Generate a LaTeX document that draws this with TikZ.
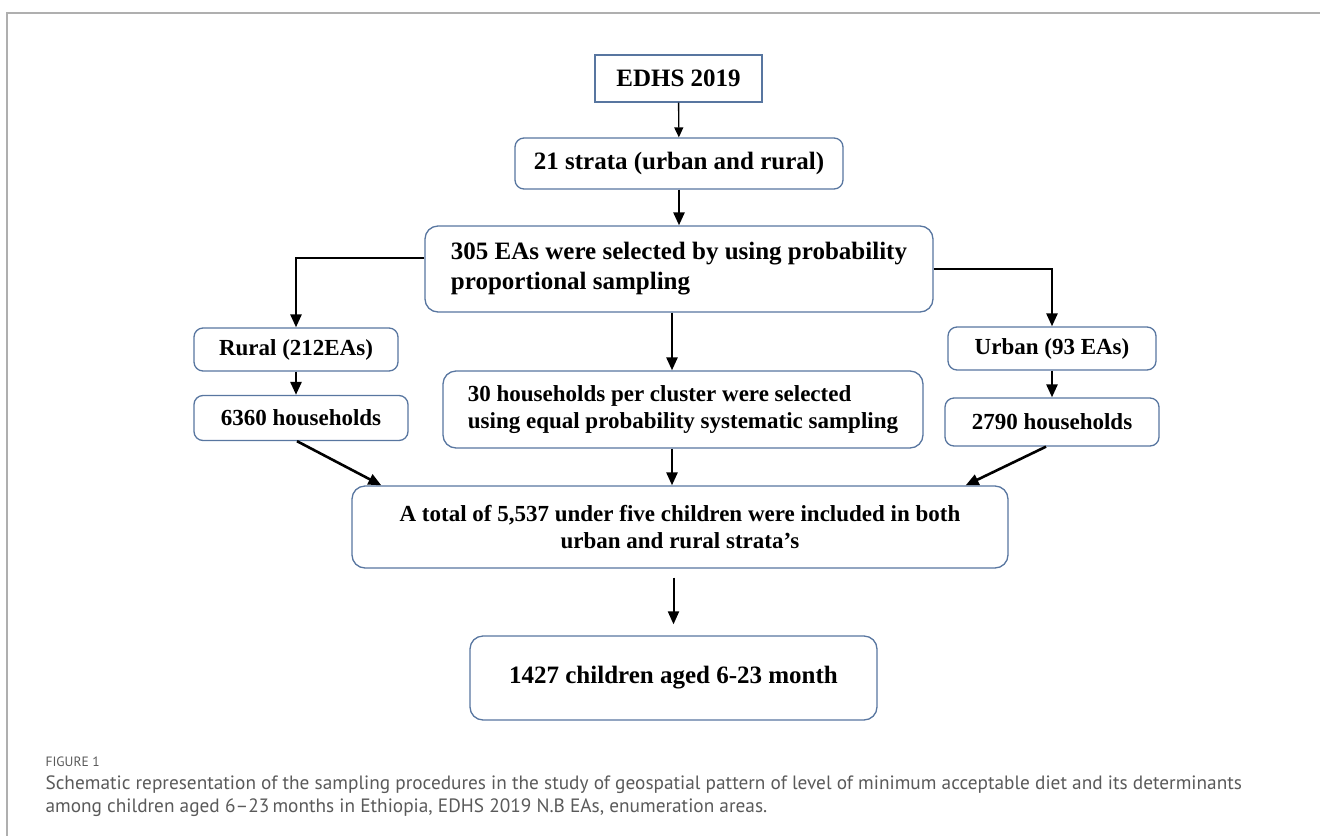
\documentclass[tikz,border=0pt]{standalone}
\usepackage{fontspec}
\setmainfont{Liberation Serif}
\newfontfamily\captionfont{PT Sans}
\usetikzlibrary{arrows.meta,calc}
\definecolor{boxline}{RGB}{88,118,160}
\definecolor{framegray}{RGB}{175,175,175}
\definecolor{capgray}{RGB}{90,90,90}

\begin{document}
\begin{tikzpicture}[x=1pt, y=-1pt,
  stage/.style={draw=boxline, line width=1.3pt, fill=white, rounded corners=9pt,
    font=\bfseries\fontsize{23}{27}\selectfont, align=center, inner sep=0pt},
  bigstage/.style={stage, font=\bfseries\fontsize{25}{30}\selectfont},
  arr/.style={-{Triangle[length=13pt, width=11pt]}, line width=2.6pt},
  thinarr/.style={-{Triangle[length=10pt, width=9pt]}, line width=1.4pt},
  caption/.style={font=\captionfont\fontsize{19.3}{23}\selectfont, text=capgray},
]
  \useasboundingbox (0,0) rectangle (1320,836);
  \draw[framegray, line width=1.5pt] (1320,13) -- (7,13) -- (7,836);

  \node[bigstage, sharp corners, minimum width=167pt, minimum height=47pt] (edhs)
    at (678.5,78.5) {EDHS 2019};
  \node[bigstage, minimum width=328pt, minimum height=51pt] (strata)
    at (679,163.5) {21 strata (urban and rural)};
  \node[bigstage, rounded corners=13pt, minimum width=508pt, minimum height=86pt,
    align=left] (sel)
    at (679,269) {305 EAs were selected by using probability\\proportional sampling};

  \node[stage, minimum width=204pt, minimum height=43pt] (rural)
    at (296,349.5) {Rural (212EAs)};
  \node[stage, minimum width=214pt, minimum height=45pt] (ruralhh)
    at (301,418) {6360 households};
  \node[stage, minimum width=208pt, minimum height=43pt] (urban)
    at (1052,348.5) {Urban (93 EAs)};
  \node[stage, minimum width=214pt, minimum height=48pt] (urbanhh)
    at (1052,422) {2790 households};
  \node[stage, rounded corners=13pt, minimum width=480pt, minimum height=77pt,
    align=left] (clusterhh)
    at (683,409.5) {30 households per cluster were selected\\using equal probability systematic sampling};

  \node[stage, rounded corners=13pt, minimum width=656pt, minimum height=82pt] (total)
    at (680,527) {A total of 5,537 under five children were included in both\\urban and rural strata's};
  \node[bigstage, rounded corners=13pt, minimum width=407pt, minimum height=84pt] (final)
    at (673.5,678) {1427 children aged 6-23 month};

  \draw[thinarr] (edhs) -- (strata);
  \draw[arr] (strata) -- (sel);
  \draw[arr] ([yshift=11pt]sel.west) -| (rural.north);
  \draw[arr] (sel.east) -| (urban.north);
  \draw[arr] ([xshift=-7pt]sel.south) -- ([xshift=-7pt]sel.south |- clusterhh.north);
  \draw[arr] (rural.south) -- (rural.south |- ruralhh.north);
  \draw[arr] (urban) -- (urbanhh);
  \draw[arr] ([xshift=-4pt]ruralhh.south) -- ([xshift=30pt]total.north west);
  \draw[arr] ([xshift=-6pt]urbanhh.south) -- ([xshift=-43pt]total.north east);
  \draw[arr] ([xshift=-11pt]clusterhh.south) -- ([xshift=-11pt]clusterhh.south |- total.north);
  \draw[arr, line width=2pt, shorten <=9pt, shorten >=11pt] (total.south -| final.north) -- (final.north);

  \node[caption, anchor=west, font=\captionfont\fontsize{13.5}{16}\selectfont] (figlabel)
    at (42,762) {FIGURE 1};
  \node[caption, anchor=west, align=left] (captext) at (42,796.5)
    {Schematic representation of the sampling procedures in the study of geospatial pattern of level of minimum acceptable diet and its determinants\\
     among children aged 6–23\,months in Ethiopia, EDHS 2019 N.B EAs, enumeration areas.};
\end{tikzpicture}
\end{document}
